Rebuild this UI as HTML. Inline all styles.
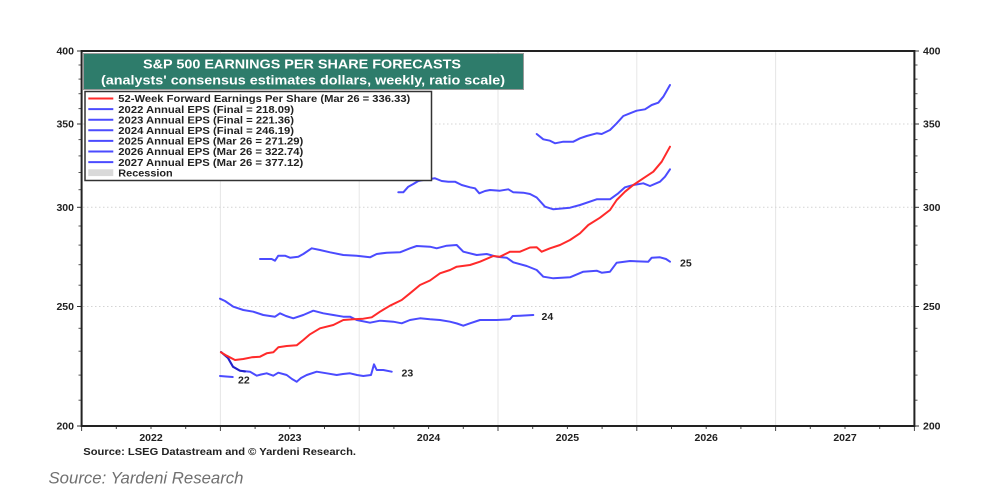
<!DOCTYPE html>
<html>
<head>
<meta charset="utf-8">
<style>
  html,body{margin:0;padding:0;background:#fff;}
  svg{display:block;}
  text{font-family:"Liberation Sans",Arial,sans-serif;}
</style>
</head>
<body>
<svg width="988" height="495" viewBox="0 0 988 495" xmlns="http://www.w3.org/2000/svg">
  <rect x="0" y="0" width="988" height="495" fill="#fff"/>

  <!-- grid -->
  <g stroke="#e6e6e6" stroke-width="1">
    <line x1="220.4" y1="52" x2="220.4" y2="425"/>
    <line x1="359.2" y1="52" x2="359.2" y2="425"/>
    <line x1="498" y1="52" x2="498" y2="425"/>
    <line x1="636.8" y1="52" x2="636.8" y2="425"/>
    <line x1="775.6" y1="52" x2="775.6" y2="425"/>
  </g>
  <g stroke="#d4d4d4" stroke-width="1" stroke-dasharray="1.5,2.5">
    <line x1="83" y1="306.5" x2="913" y2="306.5"/>
    <line x1="83" y1="207.3" x2="913" y2="207.3"/>
    <line x1="83" y1="124" x2="913" y2="124"/>
  </g>

  <!-- left/right ticks -->
  <g stroke="#333" stroke-width="1">
    <!-- majors -->
    <line x1="77" y1="51" x2="81" y2="51"/><line x1="915" y1="51" x2="919" y2="51"/>
    <line x1="77" y1="124" x2="81" y2="124"/><line x1="915" y1="124" x2="919" y2="124"/>
    <line x1="77" y1="207.3" x2="81" y2="207.3"/><line x1="915" y1="207.3" x2="919" y2="207.3"/>
    <line x1="77" y1="306.5" x2="81" y2="306.5"/><line x1="915" y1="306.5" x2="919" y2="306.5"/>
    <line x1="77" y1="426" x2="81" y2="426"/><line x1="915" y1="426" x2="919" y2="426"/>
  </g>
  <g stroke="#555" stroke-width="1">
    <line x1="78.5" y1="400.2" x2="81" y2="400.2"/><line x1="915" y1="400.2" x2="917.5" y2="400.2"/>
    <line x1="78.5" y1="375.1" x2="81" y2="375.1"/><line x1="915" y1="375.1" x2="917.5" y2="375.1"/>
    <line x1="78.5" y1="351.2" x2="81" y2="351.2"/><line x1="915" y1="351.2" x2="917.5" y2="351.2"/>
    <line x1="78.5" y1="328.3" x2="81" y2="328.3"/><line x1="915" y1="328.3" x2="917.5" y2="328.3"/>
    <line x1="78.5" y1="285.2" x2="81" y2="285.2"/><line x1="915" y1="285.2" x2="917.5" y2="285.2"/>
    <line x1="78.5" y1="264.7" x2="81" y2="264.7"/><line x1="915" y1="264.7" x2="917.5" y2="264.7"/>
    <line x1="78.5" y1="245.1" x2="81" y2="245.1"/><line x1="915" y1="245.1" x2="917.5" y2="245.1"/>
    <line x1="78.5" y1="226" x2="81" y2="226"/><line x1="915" y1="226" x2="917.5" y2="226"/>
    <line x1="78.5" y1="189.7" x2="81" y2="189.7"/><line x1="915" y1="189.7" x2="917.5" y2="189.7"/>
    <line x1="78.5" y1="172.5" x2="81" y2="172.5"/><line x1="915" y1="172.5" x2="917.5" y2="172.5"/>
    <line x1="78.5" y1="155.9" x2="81" y2="155.9"/><line x1="915" y1="155.9" x2="917.5" y2="155.9"/>
    <line x1="78.5" y1="139.6" x2="81" y2="139.6"/><line x1="915" y1="139.6" x2="917.5" y2="139.6"/>
    <line x1="78.5" y1="108.6" x2="81" y2="108.6"/><line x1="915" y1="108.6" x2="917.5" y2="108.6"/>
    <line x1="78.5" y1="93.7" x2="81" y2="93.7"/><line x1="915" y1="93.7" x2="917.5" y2="93.7"/>
    <line x1="78.5" y1="79.1" x2="81" y2="79.1"/><line x1="915" y1="79.1" x2="917.5" y2="79.1"/>
    <line x1="78.5" y1="65" x2="81" y2="65"/><line x1="915" y1="65" x2="917.5" y2="65"/>
  </g>

  <!-- bottom ticks -->
  <g stroke="#444" stroke-width="1">
    <line x1="81.6" y1="426" x2="81.6" y2="431"/>
    <line x1="116.3" y1="426" x2="116.3" y2="429"/>
    <line x1="151" y1="426" x2="151" y2="429"/>
    <line x1="185.7" y1="426" x2="185.7" y2="429"/>
    <line x1="220.4" y1="426" x2="220.4" y2="431"/>
    <line x1="255.1" y1="426" x2="255.1" y2="429"/>
    <line x1="289.8" y1="426" x2="289.8" y2="429"/>
    <line x1="324.5" y1="426" x2="324.5" y2="429"/>
    <line x1="359.2" y1="426" x2="359.2" y2="431"/>
    <line x1="393.9" y1="426" x2="393.9" y2="429"/>
    <line x1="428.6" y1="426" x2="428.6" y2="429"/>
    <line x1="463.3" y1="426" x2="463.3" y2="429"/>
    <line x1="498" y1="426" x2="498" y2="431"/>
    <line x1="532.7" y1="426" x2="532.7" y2="429"/>
    <line x1="567.4" y1="426" x2="567.4" y2="429"/>
    <line x1="602.1" y1="426" x2="602.1" y2="429"/>
    <line x1="636.8" y1="426" x2="636.8" y2="431"/>
    <line x1="671.5" y1="426" x2="671.5" y2="429"/>
    <line x1="706.2" y1="426" x2="706.2" y2="429"/>
    <line x1="740.9" y1="426" x2="740.9" y2="429"/>
    <line x1="775.6" y1="426" x2="775.6" y2="431"/>
    <line x1="810.3" y1="426" x2="810.3" y2="429"/>
    <line x1="845" y1="426" x2="845" y2="429"/>
    <line x1="879.7" y1="426" x2="879.7" y2="429"/>
    <line x1="914.4" y1="426" x2="914.4" y2="431"/>
  </g>

  <!-- series -->
  <g fill="none" stroke-linejoin="round" stroke-linecap="round">
    <!-- 2022 -->
    <polyline stroke="#4b4bff" stroke-width="2" points="220,376 226,376.5 232.7,377"/>
    <!-- 2023 -->
    <polyline stroke="#4b4bff" stroke-width="2" points="221,352 228,358 233,366.7 240,370.7 250,371.7 256.7,375.7 261,374.5 266.7,373.3 273.3,375.7 278.3,372.7 286.7,375 292,379 296.7,381.7 301,378 306.7,375 316.7,371.7 326.7,373.3 336.7,375 343,374 350,373.3 357,375 363.3,376 371,375 374,364.3 376.7,370 383.3,370 391.7,371.7"/>
    <polyline stroke="#2323c8" stroke-width="2" points="221,352 228,358 233,366.7 240,370.7 245,371.5"/>
    <!-- 2024 -->
    <polyline stroke="#4b4bff" stroke-width="2" points="220,298.7 225,301 233.3,306.7 243.3,310 253.3,311.7 263.3,315 275,316.7 280,313.3 286,316 293.3,318.3 303.3,315 313.3,310.7 323.3,313.3 333.3,315 343.3,316.7 350,316.7 356.7,320 370,322.7 380,320.7 393.3,321.7 401.7,323.3 410,320 420,318.3 430,319.3 440,320 450,321.7 457,323.5 463.3,325.7 470,323.3 480,320 496.7,320 510,319.3 512.7,316 520,315.7 533.3,315"/>
    <!-- 2025 -->
    <polyline stroke="#4b4bff" stroke-width="2" points="260,259 271.7,259 275,260.7 278.3,255.7 285,255.7 290,257.7 298.3,256.7 303.3,254 311.7,248.3 320,250 330,252.3 343.3,255 356.7,255.7 370,257.3 376.7,254 386.7,252.7 400,252.3 410,248.3 416.7,246 430,246.7 436.7,248.3 446.7,245.7 456.7,245 463.3,251.7 476.7,255 486.7,254 496.7,256.7 506.7,257.7 513.3,262.3 526.7,266 536.7,270 543.3,276.7 553.3,278.3 570,277.3 583.3,271.7 596.7,270.7 601.7,272.7 610,271.7 616.7,262.7 630,261 648.3,261.7 651.7,257.7 660,257.3 666,259 670,261.7"/>
    <!-- 2026 -->
    <polyline stroke="#4b4bff" stroke-width="2" points="398.3,192.3 403.3,192.3 408.3,186.7 413.3,184 418.3,181 423.3,180 435,178.3 441.7,181 448.3,181.7 455,181.7 461.7,185 470,187.3 475,188.3 479.3,193.3 485,191 490,190 500,190.7 508.3,189.3 513.3,192.3 523.3,192.7 530,194 536.7,197.5 545,206.7 553.3,209.3 570,207.7 580,205 596.7,199.3 610,199.3 618.3,193.3 625,187.3 633.3,185 643.3,183.3 650,186 660,181.7 665,176.7 670,169.3"/>
    <!-- 2027 -->
    <polyline stroke="#4b4bff" stroke-width="2" points="536.7,134 543.3,139.3 550,140.7 555,143.3 563.3,141.7 573.3,141.7 580,138.3 586.7,136 596.7,133.3 601.7,134 610,130 616.7,123.3 623.3,116 630,113.3 636.7,110.7 645,109.3 651.7,105 658.3,102.7 663.3,96.7 670,85"/>
    <!-- forward EPS -->
    <polyline stroke="#ff2a2a" stroke-width="2" points="220.9,352.3 226.7,355.7 235,360 243.3,359 251.7,357.3 260,356.7 266.7,353.3 273.3,352.3 278.3,347.3 286.7,346 296.7,345.3 303.3,340 310,334.3 320,328.3 333.3,325 343.3,320 353.3,319.3 363.3,318.7 371.7,317.3 380,311.7 390,305.7 401.7,300 410,293.3 420,285 430,280.5 440,273.3 450,270 456.7,266.7 470,265 480,261.7 493.3,256 500,256.7 510,251.7 520,251.7 530,247.5 536.7,247.3 541.7,251.7 550,248.3 560,245 570,240 580,233.3 588.3,225 600,217.7 610,210 616.7,200 625,191.7 633.3,185 643.3,178.3 653.3,171.7 661.7,161.7 670,146.7"/>
  </g>

  <!-- series end labels -->
  <g font-size="10.5" font-weight="bold" fill="#222">
    <text x="238" y="383.5">22</text>
    <text x="401.5" y="376.5">23</text>
    <text x="541.5" y="320">24</text>
    <text x="680" y="266.5">25</text>
  </g>

  <!-- frame -->
  <rect x="81.6" y="51" width="832.8" height="375" fill="none" stroke="#222" stroke-width="2"/>

  <!-- title box -->
  <rect x="83.5" y="53.5" width="440" height="36" fill="#2e7c6b" stroke="#9a9a9a" stroke-width="1"/>
  <text x="143" y="68.5" font-size="12.8" font-weight="bold" fill="#fff" textLength="318" lengthAdjust="spacingAndGlyphs">S&amp;P 500 EARNINGS PER SHARE FORECASTS</text>
  <text x="101" y="84.3" font-size="12.8" font-weight="bold" fill="#fff" textLength="404" lengthAdjust="spacingAndGlyphs">(analysts' consensus estimates dollars, weekly, ratio scale)</text>

  <!-- legend -->
  <rect x="85" y="91.5" width="346.5" height="89" fill="#fff" stroke="#333" stroke-width="1.5"/>
  <g stroke-width="2">
    <line x1="88.3" y1="98.5" x2="113.3" y2="98.5" stroke="#ff2a2a"/>
    <line x1="88.3" y1="109.1" x2="113.3" y2="109.1" stroke="#4b4bff"/>
    <line x1="88.3" y1="119.7" x2="113.3" y2="119.7" stroke="#4b4bff"/>
    <line x1="88.3" y1="130.3" x2="113.3" y2="130.3" stroke="#4b4bff"/>
    <line x1="88.3" y1="140.9" x2="113.3" y2="140.9" stroke="#4b4bff"/>
    <line x1="88.3" y1="151.5" x2="113.3" y2="151.5" stroke="#4b4bff"/>
    <line x1="88.3" y1="162.1" x2="113.3" y2="162.1" stroke="#4b4bff"/>
  </g>
  <rect x="88.3" y="169.3" width="25" height="6.8" fill="#d9d9d9"/>
  <g font-size="10.3" font-weight="bold" fill="#222" lengthAdjust="spacingAndGlyphs">
    <text x="118.3" y="102.2" textLength="292" lengthAdjust="spacingAndGlyphs">52-Week Forward Earnings Per Share (Mar 26 = 336.33)</text>
    <text x="118.3" y="112.8" textLength="175.7" lengthAdjust="spacingAndGlyphs">2022 Annual EPS (Final = 218.09)</text>
    <text x="118.3" y="123.4" textLength="175.7" lengthAdjust="spacingAndGlyphs">2023 Annual EPS (Final = 221.36)</text>
    <text x="118.3" y="134" textLength="175.7" lengthAdjust="spacingAndGlyphs">2024 Annual EPS (Final = 246.19)</text>
    <text x="118.3" y="144.6" textLength="185" lengthAdjust="spacingAndGlyphs">2025 Annual EPS (Mar 26 = 271.29)</text>
    <text x="118.3" y="155.2" textLength="185" lengthAdjust="spacingAndGlyphs">2026 Annual EPS (Mar 26 = 322.74)</text>
    <text x="118.3" y="165.8" textLength="185" lengthAdjust="spacingAndGlyphs">2027 Annual EPS (Mar 26 = 377.12)</text>
    <text x="118.3" y="176.4" textLength="54.4" lengthAdjust="spacingAndGlyphs">Recession</text>
  </g>

  <!-- y-axis labels -->
  <g font-size="10.5" font-weight="bold" fill="#222">
    <text x="74" y="54.7" text-anchor="end">400</text>
    <text x="74" y="127.7" text-anchor="end">350</text>
    <text x="74" y="211" text-anchor="end">300</text>
    <text x="74" y="310.2" text-anchor="end">250</text>
    <text x="74" y="429.7" text-anchor="end">200</text>
    <text x="923" y="54.7">400</text>
    <text x="923" y="127.7">350</text>
    <text x="923" y="211">300</text>
    <text x="923" y="310.2">250</text>
    <text x="923" y="429.7">200</text>
  </g>

  <!-- x-axis labels -->
  <g font-size="10.5" font-weight="bold" fill="#222" text-anchor="middle">
    <text x="151" y="441">2022</text>
    <text x="289.8" y="441">2023</text>
    <text x="428.6" y="441">2024</text>
    <text x="567.4" y="441">2025</text>
    <text x="706.2" y="441">2026</text>
    <text x="845" y="441">2027</text>
  </g>

  <text x="83.3" y="455.2" font-size="10" font-weight="bold" fill="#222" textLength="272.7" lengthAdjust="spacingAndGlyphs">Source: LSEG Datastream and © Yardeni Research.</text>

  <text x="48.5" y="483.5" font-size="17" font-style="italic" fill="#707070" textLength="195" lengthAdjust="spacingAndGlyphs">Source: Yardeni Research</text>
</svg>
</body>
</html>
